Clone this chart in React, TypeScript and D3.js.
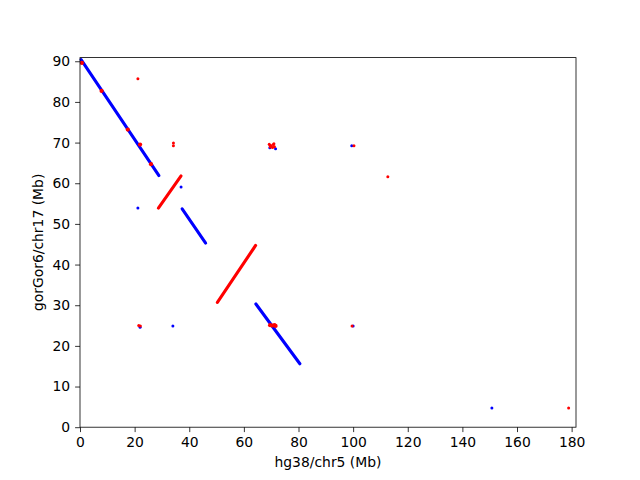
import { useEffect, useRef } from 'react';
import * as d3 from 'd3';

// alignment segments: [xStart, yStart, xEnd, yEnd] in Mb
const blueSegments: [number, number, number, number][] = [
  [0.4, 90.4, 28.9, 61.9],
  [37.4, 53.7, 46.0, 45.3],
  [64.4, 30.3, 80.5, 15.6],
];
const redSegments: [number, number, number, number][] = [
  [28.7, 53.9, 37.0, 61.8],
  [50.3, 30.7, 64.3, 44.7],
];

// isolated hits
const bluePoints: [number, number][] = [
  [21.2, 53.9], [34.0, 24.9], [37.0, 59.1], [22.0, 24.6],
  [71.6, 68.5], [69.5, 68.7], [99.5, 69.2], [150.8, 4.7],
  [100.0, 24.9],
];
const redPoints: [number, number][] = [
  [21.2, 85.7], [34.2, 69.9], [34.2, 69.2], [21.5, 25.0], [22.1, 24.9],
  [69.3, 69.6], [70.0, 69.2], [70.8, 69.5], [71.2, 69.0], [69.7, 68.9],
  [70.5, 68.8], [71.0, 69.7], [69.6, 69.3],
  [100.3, 69.2], [112.7, 61.6], [99.6, 24.9], [178.9, 4.7],
];
// red hits sitting on top of the blue diagonals
const redOnLine: [number, number][] = [
  [0.7, 89.6], [7.9, 82.7], [17.5, 73.2], [22.0, 69.5], [26.0, 64.7],
  [69.6, 25.1], [70.4, 25.0], [71.2, 25.1], [71.6, 24.9],
];

const xTicks = [0, 20, 40, 60, 80, 100, 120, 140, 160, 180];
const yTicks = [0, 10, 20, 30, 40, 50, 60, 70, 80, 90];

const W = 640;
const H = 480;
const margin = { top: 57.6, right: 64, bottom: 52.8, left: 80 };

export default function App() {
  const svgRef = useRef<SVGSVGElement>(null);

  useEffect(() => {
    if (!svgRef.current) return;
    const svg = d3.select(svgRef.current);
    svg.selectAll('*').remove();

    const x = d3.scaleLinear().domain([0, 181.6]).range([margin.left, W - margin.right]);
    const y = d3.scaleLinear().domain([0, 90.9]).range([H - margin.bottom, margin.top]);

    const plot = svg.append('g');

    const drawSegs = (segs: [number, number, number, number][], color: string) => {
      plot
        .selectAll(null)
        .data(segs)
        .enter()
        .append('line')
        .attr('x1', (d) => x(d[0]))
        .attr('y1', (d) => y(d[1]))
        .attr('x2', (d) => x(d[2]))
        .attr('y2', (d) => y(d[3]))
        .attr('stroke', color)
        .attr('stroke-width', 3.1)
        .attr('stroke-linecap', 'round');
    };
    const drawPts = (pts: [number, number][], color: string, r: number) => {
      plot
        .selectAll(null)
        .data(pts)
        .enter()
        .append('circle')
        .attr('cx', (d) => x(d[0]))
        .attr('cy', (d) => y(d[1]))
        .attr('r', r)
        .attr('fill', color);
    };

    drawSegs(blueSegments, '#0000ff');
    drawSegs(redSegments, '#ff0000');
    drawPts(bluePoints, '#0000ff', 1.5);
    drawPts(redPoints, '#ff0000', 1.5);
    drawPts(redOnLine, '#ff0000', 2.1);

    // ── Axes ──
    const font = 'DejaVu Sans, sans-serif';
    const xAxis = svg
      .append('g')
      .attr('transform', `translate(0,${H - margin.bottom})`)
      .call(d3.axisBottom(x).tickValues(xTicks).tickSize(4.9).tickPadding(4.9).tickFormat(d3.format('d')));
    const yAxis = svg
      .append('g')
      .attr('transform', `translate(${margin.left},0)`)
      .call(d3.axisLeft(y).tickValues(yTicks).tickSize(4.9).tickPadding(4.9).tickFormat(d3.format('d')));

    [xAxis, yAxis].forEach((g) => {
      g.select('.domain').remove();
      g.selectAll('line').attr('stroke', '#000').attr('stroke-width', 0.8);
      g.selectAll('text').attr('font-family', font).attr('font-size', '13.9px').attr('fill', '#000');
    });

    svg
      .append('rect')
      .attr('x', margin.left)
      .attr('y', margin.top)
      .attr('width', W - margin.left - margin.right)
      .attr('height', H - margin.top - margin.bottom)
      .attr('fill', 'none')
      .attr('stroke', '#000')
      .attr('stroke-width', 0.8);

    svg
      .append('text')
      .attr('x', (margin.left + W - margin.right) / 2)
      .attr('y', 467)
      .attr('text-anchor', 'middle')
      .attr('font-family', font)
      .attr('font-size', '13.9px')
      .text('hg38/chr5 (Mb)');

    svg
      .append('text')
      .attr('transform', `translate(43,${(margin.top + H - margin.bottom) / 2}) rotate(-90)`)
      .attr('text-anchor', 'middle')
      .attr('font-family', font)
      .attr('font-size', '13.9px')
      .text('gorGor6/chr17 (Mb)');
  }, []);

  return (
    <svg
      ref={svgRef}
      width={W}
      height={H}
      style={{ position: 'absolute', left: 0, top: 0, background: '#fff' }}
    />
  );
}
